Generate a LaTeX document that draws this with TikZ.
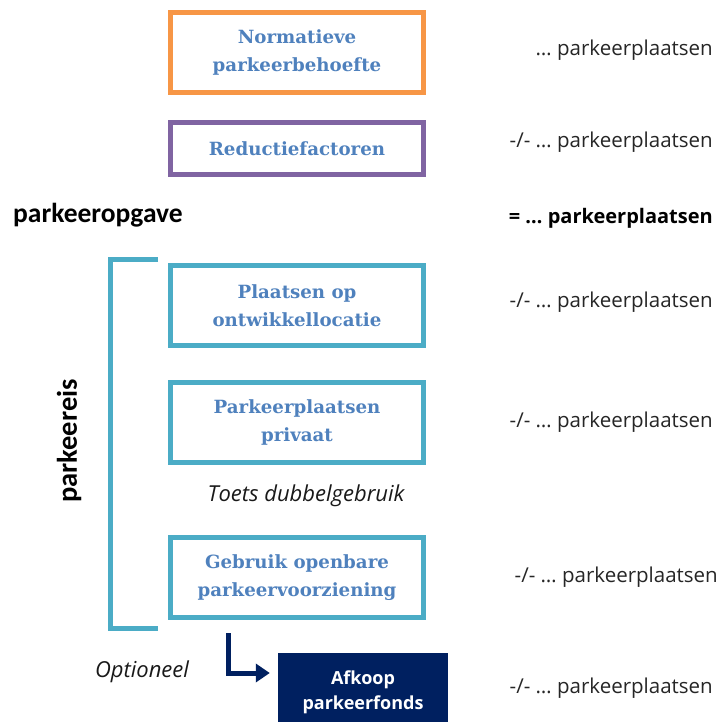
\documentclass[tikz,border=0pt]{standalone}
\usepackage{fontspec}
\setmainfont{Open Sans}
\newfontfamily\blkfont{DejaVu Serif}
\newfontfamily\headfont{Carlito}
\usetikzlibrary{arrows.meta}
\definecolor{pkorange}{RGB}{247,150,70}
\definecolor{pkpurple}{RGB}{128,100,162}
\definecolor{pkteal}{RGB}{75,172,198}
\definecolor{pkblue}{RGB}{79,129,189}
\definecolor{pknavy}{RGB}{0,32,96}

\begin{document}
\begin{tikzpicture}[
    x=1pt, y=-1pt,
    >={Triangle[length=14pt,width=18pt]},
    blk/.style={draw, line width=5pt, minimum width=253pt, minimum height=80pt,
                inner sep=0pt, align=center, text=pkblue,
                font=\blkfont\bfseries\fontsize{18.2}{28.5}\selectfont},
    amount/.style={anchor=base east, inner sep=0pt, text=black!85, font=\fontsize{20.5}{24}\selectfont},
    head/.style={text=black, font=\headfont\bfseries\fontsize{27.5}{30}\selectfont},
    note/.style={text=black!90, font=\itshape\fontsize{22}{24}\selectfont},
  ]
  \useasboundingbox (0,0) rectangle (719,722);

  %% ---------------- norm and reduction ----------------
  \node[blk, draw=pkorange] (norm) at (297,52.5) {Normatieve\\parkeerbehoefte};
  \node[blk, draw=pkpurple, minimum height=52pt] (reduc) at (297,148.5) {Reductiefactoren};
  \node[head, anchor=west, inner sep=0pt] (opgave) at (13,215) {parkeeropgave};

  %% ---------------- parkeereis ----------------
  \draw[pkteal, line width=5pt] (158,259) -- (110,259) -- (110,628) -- (158,628);
  \node[head, rotate=90, font=\headfont\bfseries\fontsize{28.5}{30}\selectfont] (eis) at (69,441) {parkeereis};
  \node[blk, draw=pkteal] (plaatsen) at (297,305.5) {Plaatsen op\\ontwikkellocatie};
  \node[blk, draw=pkteal] (privaat) at (297,422.5) {Parkeerplaatsen\\privaat};
  \node[note] (toets) at (306,496) {Toets dubbelgebruik};
  \node[blk, draw=pkteal] (gebruik) at (297,577.5) {Gebruik openbare\\parkeervoorziening};

  %% ---------------- optional buy-off ----------------
  \node[fill=pknavy, minimum width=170pt, minimum height=78pt, inner sep=0pt,
        align=center, text=white, font=\bfseries\fontsize{18}{25}\selectfont]
        (afkoop) at (363,692) {Afkoop\\parkeerfonds};
  \node[note] (optie) at (142,672) {Optioneel};
  \draw[->, pknavy, line width=5pt]
    ([xshift=60pt, yshift=-13pt]gebruik.south west) |- ([xshift=-8pt, yshift=19pt]afkoop.west);

  %% ---------------- amounts ----------------
  \node[amount] (a1) at (713,56) {\dots\ parkeerplaatsen};
  \node[amount] (a2) at (713,148) {-/- \dots\ parkeerplaatsen};
  \node[amount, font=\bfseries\fontsize{20}{24}\selectfont, text=black] (a3) at (713,223)
    {= \dots\ parkeerplaatsen};
  \node[amount] (a4) at (713,307) {-/- \dots\ parkeerplaatsen};
  \node[amount] (a5) at (713,427) {-/- \dots\ parkeerplaatsen};
  \node[amount] (a6) at (718,582) {-/- \dots\ parkeerplaatsen};
  \node[amount] (a7) at (713,693) {-/- \dots\ parkeerplaatsen};

\end{tikzpicture}
\end{document}
